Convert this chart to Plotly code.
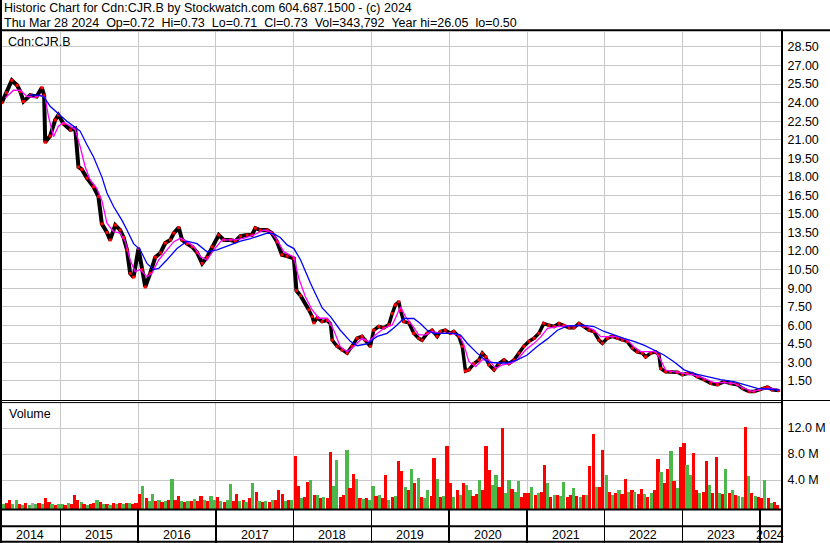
import plotly.graph_objects as go
import pandas as pd

# ---------------- data ----------------
close_dates = [
    "2014-04-01", "2014-04-23", "2014-05-18", "2014-06-12", "2014-06-27", "2014-07-12", "2014-08-12",
    "2014-09-12", "2014-10-06", "2014-10-17", "2014-10-22", "2014-11-14", "2014-12-08", "2014-12-23",
    "2015-01-16", "2015-02-17", "2015-03-12", "2015-03-27", "2015-04-12", "2015-05-06", "2015-06-06",
    "2015-06-29", "2015-07-15", "2015-08-08", "2015-08-23", "2015-09-16", "2015-10-09", "2015-10-25",
    "2015-11-10", "2015-11-25", "2015-12-11",
    "2016-01-03", "2016-01-19", "2016-02-04", "2016-02-27", "2016-03-22", "2016-04-15", "2016-05-08",
    "2016-06-01", "2016-06-17", "2016-07-10", "2016-07-26", "2016-08-18", "2016-09-11", "2016-10-04",
    "2016-10-28", "2016-11-20", "2016-12-14",
    "2017-01-14", "2017-02-07", "2017-03-10", "2017-04-02", "2017-04-26", "2017-05-27", "2017-06-19",
    "2017-07-05", "2017-07-28", "2017-08-29", "2017-09-21", "2017-10-15", "2017-11-07", "2017-12-01",
    "2018-01-02", "2018-01-14", "2018-02-02", "2018-03-13", "2018-03-29", "2018-04-06", "2018-04-22",
    "2018-05-15", "2018-06-08", "2018-06-23", "2018-07-01", "2018-07-24", "2018-08-16", "2018-09-09",
    "2018-10-02", "2018-10-26", "2018-11-18", "2018-12-03", "2018-12-27",
    "2019-01-12", "2019-02-05", "2019-02-28", "2019-03-24", "2019-04-09", "2019-04-24", "2019-05-10",
    "2019-05-18", "2019-06-02", "2019-06-26", "2019-07-19", "2019-08-11", "2019-08-27", "2019-09-20",
    "2019-10-13", "2019-11-06", "2019-11-21", "2019-12-14",
    "2020-01-07", "2020-01-23", "2020-02-16", "2020-03-03", "2020-03-18", "2020-04-03", "2020-04-27",
    "2020-05-20", "2020-06-05", "2020-06-21", "2020-07-06", "2020-07-30", "2020-08-22", "2020-09-15",
    "2020-10-08", "2020-11-01", "2020-11-24", "2020-12-17",
    "2021-01-10", "2021-02-03", "2021-02-26", "2021-03-21", "2021-04-14", "2021-05-08", "2021-05-31",
    "2021-06-23", "2021-07-17", "2021-08-09", "2021-09-02", "2021-09-25", "2021-10-19", "2021-11-11",
    "2021-12-05", "2021-12-21",
    "2022-01-13", "2022-02-06", "2022-03-01", "2022-03-25", "2022-04-17", "2022-05-11", "2022-06-03",
    "2022-06-27", "2022-07-12", "2022-08-05", "2022-08-28", "2022-09-13", "2022-09-21", "2022-10-14",
    "2022-11-06", "2022-12-08",
    "2023-01-01", "2023-01-24", "2023-02-17", "2023-03-12", "2023-04-13", "2023-05-14", "2023-06-14",
    "2023-07-16", "2023-08-16", "2023-09-17", "2023-10-10", "2023-11-10", "2023-12-04", "2023-12-27",
    "2024-01-19", "2024-02-04", "2024-02-27", "2024-03-28",
]
close_values = [
    24.0, 24.8, 25.8, 25.4, 24.9, 24.1, 24.6, 24.5, 25.2, 24.6, 20.8, 21.3, 22.6, 23.0,
    22.3, 21.8, 21.9, 18.8, 18.6, 17.9, 17.2, 16.4, 14.2, 13.5, 12.9, 14.1, 13.7, 13.1, 12.1, 10.2, 9.9,
    12.2, 10.5, 9.1, 10.2, 11.5, 11.85, 12.65, 12.9, 13.45, 13.9, 12.9, 12.6, 12.35, 11.9, 11.0, 11.5, 12.35,
    13.3, 12.9, 12.9, 12.8, 13.2, 13.3, 13.3, 13.85, 13.7, 13.7, 13.45, 12.75, 11.7, 11.6,
    11.4, 8.8, 8.4, 7.25, 6.7, 6.2, 6.6, 6.3, 6.4, 6.1, 4.8, 4.3, 4.0, 3.75, 4.3, 4.95, 5.1, 4.8, 4.3,
    5.6, 5.9, 5.8, 6.05, 6.95, 7.65, 7.9, 7.2, 6.3, 6.2, 5.35, 4.95, 4.8, 5.35, 5.6, 5.1, 5.5, 5.6,
    5.35, 5.5, 5.1, 4.3, 2.3, 2.4, 2.9, 3.2, 3.75, 3.45, 2.8, 2.4, 2.9, 3.2, 2.9, 3.2, 3.75, 4.3,
    4.7, 4.95, 5.35, 6.15, 6.0, 5.9, 6.15, 6.0, 5.8, 5.8, 6.15, 5.9, 5.6, 5.5, 4.8, 4.55,
    4.95, 5.1, 4.95, 4.8, 4.7, 4.15, 3.85, 3.75, 3.45, 3.75, 3.85, 3.6, 2.5, 2.25, 2.25, 2.2,
    2.0, 2.1, 2.1, 1.85, 1.6, 1.3, 1.2, 1.45, 1.3, 1.2, 0.9, 0.65, 0.65, 0.8,
    0.9, 1.0, 0.78, 0.73,
]

ma_short_dates = [
    "2014-04-16", "2014-05-26", "2014-06-27", "2014-07-28", "2014-08-28", "2014-09-28", "2014-10-22",
    "2014-11-06", "2014-11-30", "2014-12-23",
    "2015-01-16", "2015-02-17", "2015-03-12", "2015-04-04", "2015-04-28", "2015-05-21", "2015-06-21",
    "2015-07-15", "2015-08-08", "2015-09-08", "2015-10-09", "2015-11-02", "2015-11-25", "2015-12-18",
    "2016-01-11", "2016-02-12", "2016-03-06", "2016-04-07", "2016-05-16", "2016-06-17", "2016-07-18",
    "2016-08-18", "2016-09-19", "2016-10-20", "2016-11-20", "2016-12-22",
    "2017-01-30", "2017-03-25", "2017-05-12", "2017-06-28", "2017-08-14", "2017-09-14", "2017-10-15",
    "2017-11-15",
    "2018-01-02", "2018-01-25", "2018-02-25", "2018-03-29", "2018-04-29", "2018-06-08", "2018-07-08",
    "2018-08-08", "2018-09-09", "2018-10-10", "2018-11-18", "2018-12-19",
    "2019-01-20", "2019-02-28", "2019-04-09", "2019-05-18", "2019-06-10", "2019-07-11", "2019-08-11",
    "2019-09-12", "2019-10-13", "2019-11-21",
    "2020-01-07", "2020-02-16", "2020-03-11", "2020-04-03", "2020-05-05", "2020-06-05", "2020-07-06",
    "2020-08-07", "2020-09-07", "2020-10-17", "2020-11-16", "2020-12-25",
    "2021-02-03", "2021-03-08", "2021-04-07", "2021-05-24", "2021-07-09", "2021-09-02", "2021-09-25",
    "2021-11-11", "2021-12-13",
    "2022-01-13", "2022-03-01", "2022-04-17", "2022-05-18", "2022-06-19", "2022-07-20", "2022-08-28",
    "2022-09-21", "2022-10-14", "2022-11-22",
    "2023-01-09", "2023-02-25", "2023-04-13", "2023-05-30", "2023-07-16", "2023-08-31", "2023-10-18",
    "2023-11-26",
    "2024-01-04", "2024-02-19", "2024-03-28",
]
ma_short_values = [
    24.35, 25.0, 25.0, 24.5, 24.4, 24.6, 24.4, 22.9, 21.25, 22.1,
    22.4, 22.1, 21.8, 20.45, 18.8, 17.75, 17.07, 16.1, 14.25, 13.57, 13.46, 12.76, 11.28, 10.33,
    10.5, 9.93, 10.2, 11.28, 12.1, 12.76, 13.03, 12.76, 12.35, 11.55, 11.28, 12.1,
    12.9, 12.9, 13.03, 13.3, 13.7, 13.57, 12.9, 11.95,
    11.5, 9.8, 8.3, 7.24, 6.57, 6.57, 5.62, 4.27, 3.87, 4.27, 4.95, 4.68,
    5.22, 5.76, 6.03, 7.5, 6.7, 6.03, 5.22, 5.22, 5.5, 5.35,
    5.35, 5.22, 4.4, 3.06, 2.65, 3.2, 3.2, 2.52, 2.79, 2.93, 3.2, 4.0,
    4.54, 5.08, 5.76, 5.89, 5.95, 5.95, 6.0, 5.62, 5.08,
    5.08, 5.08, 4.81, 4.27, 3.87, 3.87, 3.87, 3.2, 2.38, 2.25,
    2.1, 1.98, 1.71, 1.36, 1.36, 1.31, 0.91, 0.64,
    0.83, 0.91, 0.77,
]

ma_long_dates = [
    "2014-08-04", "2014-09-12", "2014-10-14", "2014-11-14", "2014-12-23",
    "2015-02-01", "2015-03-19", "2015-04-04", "2015-05-06", "2015-06-06", "2015-07-15", "2015-08-08",
    "2015-09-08", "2015-10-17", "2015-11-10", "2015-12-11",
    "2016-01-11", "2016-02-12", "2016-03-14", "2016-04-07", "2016-05-16", "2016-07-02", "2016-08-18",
    "2016-10-04", "2016-11-20",
    "2017-01-06", "2017-03-10", "2017-04-26", "2017-06-12", "2017-07-28", "2017-08-29", "2017-09-29",
    "2017-10-30", "2017-12-01",
    "2018-01-02", "2018-02-02", "2018-03-21", "2018-05-15", "2018-06-23", "2018-08-08", "2018-09-24",
    "2018-10-26", "2018-12-11",
    "2019-01-28", "2019-03-16", "2019-04-24", "2019-06-02", "2019-07-19", "2019-08-19", "2019-09-20",
    "2019-10-21", "2019-12-07",
    "2020-01-23", "2020-02-24", "2020-03-26", "2020-05-12", "2020-06-28", "2020-08-14", "2020-09-30",
    "2020-11-16",
    "2021-01-02", "2021-02-19", "2021-04-07", "2021-05-24", "2021-07-09", "2021-09-25", "2021-11-11",
    "2021-12-29",
    "2022-02-14", "2022-04-01", "2022-05-18", "2022-07-04", "2022-08-20", "2022-10-06", "2022-11-22",
    "2023-01-09", "2023-02-25", "2023-04-28", "2023-06-29", "2023-08-31", "2023-11-02", "2023-12-19",
    "2024-02-04", "2024-03-28",
]
ma_long_values = [
    24.6, 24.6, 24.5, 23.7, 23.1,
    22.5, 21.9, 21.7, 20.6, 19.6, 18.0, 16.7, 15.6, 14.5, 13.7, 12.6,
    12.1, 11.0, 10.5, 10.6, 11.3, 12.2, 12.8, 12.6, 11.95,
    12.1, 12.5, 12.8, 13.0, 13.3, 13.45, 13.4, 13.1, 12.5,
    12.2, 11.3, 9.4, 7.4, 6.7, 5.6, 4.7, 4.35, 4.5,
    5.1, 5.35, 5.9, 6.55, 6.55, 6.15, 5.6, 5.35, 5.35,
    5.35, 5.2, 4.55, 3.75, 3.05, 2.95, 2.95, 3.2,
    3.6, 4.3, 4.9, 5.6, 5.95, 6.0, 5.9, 5.5,
    5.2, 4.95, 4.7, 4.4, 4.0, 3.6, 3.05,
    2.4, 2.1, 1.85, 1.6, 1.45, 1.15, 0.9,
    0.85, 0.77,
]

# volume in millions, one value per half month starting April 2014
vol_values = [
    0.3, 0.5, 0.9, 0.3, 1.0, 0.3, 0.2, 0.4, 0.2, 0.5, 0.3, 0.4, 0.3, 1.2, 0.6, 0.3, 0.2, 0.3,
    0.3, 0.2, 0.4, 0.3, 1.7, 0.9, 0.6, 0.3, 0.2, 0.3, 0.4, 0.9, 0.6, 0.3, 0.3, 0.2, 0.5, 0.3, 0.4, 0.3, 0.5, 0.4, 0.3, 0.5,
    1.9, 3.1, 1.2, 0.7, 1.8, 0.8, 0.9, 0.6, 0.8, 1.0, 4.1, 0.9, 1.5, 0.7, 0.6, 0.8, 0.7, 1.1, 0.8, 1.5, 0.9, 0.7, 1.5, 0.9,
    1.4, 0.7, 0.6, 0.9, 3.4, 0.8, 1.8, 0.7, 0.9, 0.6, 1.2, 3.5, 2.2, 0.7, 0.6, 0.8, 0.6, 0.9, 1.0, 2.5, 1.8, 0.8, 0.9, 1.0,
    7.7, 3.1, 1.2, 1.4, 3.7, 4.0, 1.7, 1.7, 1.2, 1.4, 1.3, 8.3, 3.1, 7.1, 1.4, 1.7, 8.6, 2.8, 4.9, 4.1, 1.2, 1.1, 1.3, 1.0,
    3.1, 1.5, 1.7, 1.2, 4.8, 1.0, 1.4, 1.6, 6.9, 5.4, 2.9, 2.4, 5.7, 3.5, 4.3, 1.4, 1.2, 2.4, 1.6, 7.4, 4.1, 1.4, 1.6, 9.2,
    3.5, 1.4, 2.5, 1.7, 3.5, 3.3, 2.4, 1.6, 1.8, 4.0, 2.5, 9.2, 5.5, 3.2, 4.8, 2.9, 12.0, 2.0, 4.0, 2.6, 2.2, 3.8, 1.4, 2.0,
    2.0, 2.9, 1.7, 2.0, 2.2, 6.3, 3.5, 1.4, 1.7, 1.7, 1.5, 3.7, 1.4, 1.7, 2.8, 1.5, 1.4, 1.7, 1.7, 6.2, 11.1, 2.9, 2.9, 8.6,
    4.8, 2.2, 1.7, 2.0, 2.5, 1.8, 4.1, 2.2, 2.5, 2.2, 1.8, 2.6, 1.8, 1.4, 2.0, 2.5, 7.2, 5.2, 3.5, 5.7, 8.5, 3.9, 2.8, 9.1,
    9.7, 6.3, 4.8, 8.2, 2.5, 2.0, 2.2, 6.9, 3.2, 2.0, 7.5, 2.0, 1.8, 5.7, 2.0, 2.5, 1.7, 1.5, 1.4, 12.2, 4.6, 2.0, 1.6, 1.4,
    1.2, 4.0, 1.2, 0.5, 0.6, 0.2,
]
# r = down (red), g = up (green), k = unchanged (grey)
vol_color_codes = (
    "grrggrgrgkgrgrrgrg"
    "grgrrrgrgrrgrgrgrgrgrgrr"
    "rgrggrgrgrgrrgrgrgrrgrgg"
    "rgrggrrgrgrgrgrgrgrrrgrg"
    "rrgrrgrgrgrrggrrgrrgrgrg"
    "grgrrgrgrrgrgrgrggrrgrgr"
    "rgrgrggrrgrrrggrrggrggrr"
    "rgrgrrgrgrggrrgrgrgrrgrr"
    "grgrgrrgrgrrgrgrrgrrgrgr"
    "rggrrgrrgrrgrgrgrggrgrgr"
    "rgrgrr"
)

year_starts = ["2015-01-01", "2016-01-01", "2017-01-01", "2018-01-01", "2019-01-01",
               "2020-01-01", "2021-01-01", "2022-01-01", "2023-01-01", "2024-01-01"]
year_labels = ["2014", "2015", "2016", "2017", "2018", "2019", "2020", "2021", "2022", "2023", "2024"]
year_label_pos = ["2014-08-12", "2015-07-02", "2016-07-02", "2017-07-02", "2018-07-02", "2019-07-02",
                  "2020-07-02", "2021-07-02", "2022-07-02", "2023-07-02", "2024-02-16"]

price_ticks = [1.5, 3.0, 4.5, 6.0, 7.5, 9.0, 10.5, 12.0, 13.5, 15.0, 16.5, 18.0, 19.5, 21.0,
               22.5, 24.0, 25.5, 27.0, 28.5]
price_tick_text = ["%.2f" % v for v in price_ticks]
vol_ticks = [4, 8, 12]
vol_tick_text = ["4.0 M", "8.0 M", "12.0 M"]

title_line1 = "Historic Chart for Cdn:CJR.B by Stockwatch.com 604.687.1500 - (c) 2024"
title_line2 = ("Thu Mar 28 2024\u00a0\u00a0Op=0.72\u00a0\u00a0Hi=0.73\u00a0\u00a0Lo=0.71\u00a0\u00a0Cl=0.73"
               "\u00a0\u00a0Vol=343,792\u00a0\u00a0Year hi=26.05\u00a0\u00a0lo=0.50")

# ---------------- figure ----------------
FONT = "Arial, 'Liberation Sans', sans-serif"
GRID = "#C8C8C8"
W, H = 830, 543
ML, MR, MT, MB = 2, 49, 32, 34
PW, PH = W - ML - MR, H - MT - MB


def px(xpix):
    return (xpix - ML) / PW


def py(ypix):
    return (H - MB - ypix) / PH


VOL_FLOOR = -0.46
color_map = {"r": "#FF0000", "g": "#4CB84C", "k": "#A8A8A8"}
vol_dates = pd.date_range("2014-04-01", periods=len(vol_values), freq="SMS")

fig = go.Figure()

fig.add_trace(go.Bar(
    x=vol_dates, y=[v - VOL_FLOOR for v in vol_values], base=VOL_FLOOR,
    width=15.2 * 86400000, offset=0,
    marker=dict(color=[color_map[c] for c in vol_color_codes], line=dict(width=0)),
    xaxis="x2", yaxis="y2",
))

# price trace: thicker stroke for the high-priced early years (wider daily ranges), thinner later
split = close_dates.index("2018-03-13")
fig.add_trace(go.Scatter(
    x=close_dates[:split + 1], y=close_values[:split + 1], mode="lines",
    line=dict(color="#000000", width=4), xaxis="x", yaxis="y",
))
fig.add_trace(go.Scatter(
    x=close_dates[split:], y=close_values[split:], mode="lines",
    line=dict(color="#000000", width=3.5), xaxis="x", yaxis="y",
))
fig.add_trace(go.Scatter(
    x=close_dates, y=close_values, mode="markers",
    marker=dict(color="#FF0000", size=3, symbol="square", line=dict(width=0)),
    xaxis="x", yaxis="y",
))
fig.add_trace(go.Scatter(
    x=ma_short_dates, y=ma_short_values, mode="lines",
    line=dict(color="#FF00FF", width=1.3), xaxis="x", yaxis="y",
))
fig.add_trace(go.Scatter(
    x=ma_long_dates, y=ma_long_values, mode="lines",
    line=dict(color="#0000FF", width=1.3), xaxis="x", yaxis="y",
))

xrange = ["2014-04-02", "2024-04-08"]
common_x = dict(type="date", range=xrange, tickvals=year_starts, showgrid=True, gridcolor=GRID,
                gridwidth=1, zeroline=False, showline=False, fixedrange=True)

shapes = []


def hline(y, x0, x1, w):
    shapes.append(dict(type="line", xref="paper", yref="paper", x0=px(x0), x1=px(x1),
                       y0=py(y), y1=py(y), line=dict(color="black", width=w)))


def vline(x, y0, y1, w):
    shapes.append(dict(type="line", xref="paper", yref="paper", x0=px(x), x1=px(x),
                       y0=py(y0), y1=py(y1), line=dict(color="black", width=w)))


hline(30.3, 0, 830, 2)
hline(400.5, 0, 830, 1)
hline(402.6, 0, 782, 1)
hline(509.5, 0, 782, 2)
hline(526.3, 0, 782, 2)
hline(541.8, 0, 782, 2)
vline(1, 0, 543, 2)
vline(782, 30, 543, 2)

annotations = [
    dict(text=title_line1, x=px(3), y=py(7.5), xanchor="left", yanchor="middle"),
    dict(text=title_line2, x=px(3), y=py(22.5), xanchor="left", yanchor="middle"),
    dict(text="Cdn:CJR.B", x=px(7), y=py(42), xanchor="left", yanchor="middle"),
    dict(text="Volume", x=px(8), y=py(413.5), xanchor="left", yanchor="middle"),
]
for a in annotations:
    a.update(xref="paper", yref="paper", showarrow=False, borderpad=0,
             font=dict(family=FONT, size=12.5, color="#000000"))
for lab, pos in zip(year_labels, year_label_pos):
    annotations.append(dict(text=lab, x=pos, xref="x2", y=py(535), yref="paper", showarrow=False,
                            xanchor="center", yanchor="middle", borderpad=0,
                            font=dict(family=FONT, size=12.5, color="#000000")))

fig.update_layout(
    width=W, height=H,
    margin=dict(l=ML, r=MR, t=MT, b=MB, pad=0),
    paper_bgcolor="white", plot_bgcolor="white",
    showlegend=False, hovermode=False, bargap=0,
    font=dict(family=FONT, size=12.5, color="#000000"),
    xaxis=dict(domain=[0, 1], anchor="y", showticklabels=False, ticks="", matches="x2", **common_x),
    xaxis2=dict(domain=[0, 1], anchor="y2", showticklabels=False, ticks="outside", ticklen=33,
                tickwidth=1.5, tickcolor="black", **common_x),
    yaxis=dict(domain=[py(400), 1], anchor="x", side="right", range=[-0.04, 29.71],
               tickvals=price_ticks, ticktext=price_tick_text, showgrid=True, gridcolor=GRID,
               zeroline=False, showline=False, ticks="outside", ticklen=3, tickcolor="rgba(0,0,0,0)",
               tickfont=dict(family=FONT, size=12.5, color="#000000"), fixedrange=True),
    yaxis2=dict(domain=[0, py(403)], anchor="x2", side="right", range=[VOL_FLOOR, 15.85],
                tickvals=vol_ticks, ticktext=vol_tick_text, showgrid=True, gridcolor=GRID,
                zeroline=False, showline=False, ticks="outside", ticklen=3, tickcolor="rgba(0,0,0,0)",
                tickfont=dict(family=FONT, size=12.5, color="#000000"), fixedrange=True),
    shapes=shapes,
    annotations=annotations,
)

fig.write_html(
    "out.html",
    config={"displayModeBar": False, "staticPlot": True},
    post_script="document.body.style.margin='0';document.body.style.padding='0';"
                "document.documentElement.style.overflow='hidden';",
)
